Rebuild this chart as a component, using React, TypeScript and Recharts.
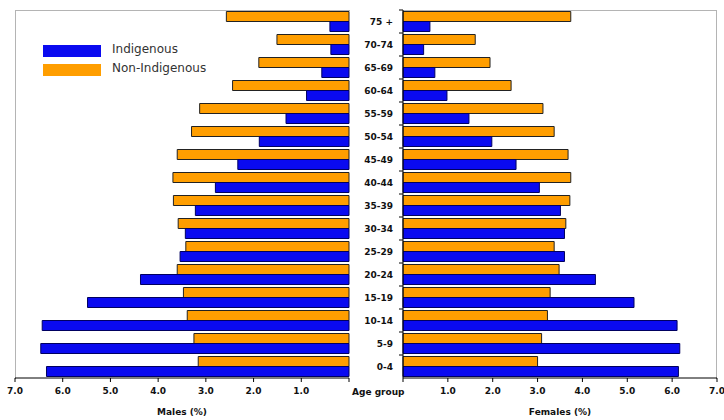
import { Bar, BarChart, Label, Legend, XAxis, YAxis } from "recharts";

const ageGroups = ["75 +", "70-74", "65-69", "60-64", "55-59", "50-54", "45-49", "40-44", "35-39", "30-34", "25-29", "20-24", "15-19", "10-14", "5-9", "0-4"];

const maleIndigenous = [0.4, 0.38, 0.57, 0.89, 1.32, 1.88, 2.33, 2.8, 3.22, 3.43, 3.54, 4.37, 5.48, 6.43, 6.46, 6.34];
const maleNonIndigenous = [2.57, 1.51, 1.89, 2.44, 3.13, 3.3, 3.6, 3.69, 3.68, 3.58, 3.42, 3.6, 3.47, 3.39, 3.25, 3.16];
const femaleIndigenous = [0.6, 0.46, 0.71, 0.98, 1.47, 1.98, 2.52, 3.04, 3.51, 3.6, 3.6, 4.29, 5.15, 6.11, 6.17, 6.14];
const femaleNonIndigenous = [3.74, 1.61, 1.94, 2.41, 3.12, 3.37, 3.68, 3.74, 3.72, 3.63, 3.37, 3.48, 3.28, 3.22, 3.09, 3.0];

const xTicks = [0, 1, 2, 3, 4, 5, 6, 7];

const BLUE = "#0a0af0";
const ORANGE = "#ff9e00";
const FRAME = "#b4b4b4";
const FONT = "'DejaVu Sans', Verdana, sans-serif";

const PLOT_TOP = 10;
const PLOT_H = 368;
const BAND = PLOT_H / ageGroups.length;

const maleData = ageGroups.map((age, i) => ({
  age,
  indigenous: maleIndigenous[i],
  nonIndigenous: maleNonIndigenous[i],
}));

const femaleData = ageGroups.map((age, i) => ({
  age,
  indigenous: femaleIndigenous[i],
  nonIndigenous: femaleNonIndigenous[i],
}));

const tickStyle = { fontFamily: FONT, fontWeight: "bold", fontSize: 9, fill: "#111" };

const fmt = (v: number) => (v === 0 ? "" : v.toFixed(1));

// tick marks sit on the band boundaries, labels in the middle gap
function LeftBandTick(props: any) {
  const { x, y } = props;
  const top = y - BAND / 2;
  return <line x1={x} x2={x + 3} y1={top} y2={top} stroke="#000" />;
}

function RightBandTick(props: any) {
  const { x, y, payload } = props;
  const top = y - BAND / 2;
  return (
    <g>
      <line x1={x - 4} x2={x} y1={top} y2={top} stroke="#000" />
      <text x={x - 10} y={y} dy="0.35em" textAnchor="end" style={tickStyle}>
        {payload.value}
      </text>
    </g>
  );
}

function LegendBox(props: any) {
  const items = [...(props.payload || [])].sort((a: any, b: any) => (a.value === "Indigenous" ? -1 : b.value === "Indigenous" ? 1 : 0));
  return (
    <div style={{ fontFamily: FONT, fontSize: 12, color: "#333" }}>
      {items.map((item: any) => (
        <div key={item.value} style={{ display: "flex", alignItems: "center", height: 19 }}>
          <span style={{ display: "inline-block", width: 58, height: 12, background: item.color, marginRight: 11 }} />
          <span style={{ marginTop: -4 }}>{item.value}</span>
        </div>
      ))}
    </div>
  );
}

export default function App() {
  return (
    <div style={{ position: "absolute", left: 0, top: 0, width: 724, height: 420, background: "#fff" }}>
      {/* light frame around the outer sides of both panels */}
      <div style={{ position: "absolute", left: 15, top: 10, width: 334, height: 368, borderTop: `1px solid ${FRAME}`, borderLeft: `1px solid ${FRAME}` }} />
      <div style={{ position: "absolute", left: 403, top: 10, width: 313, height: 368, borderTop: `1px solid ${FRAME}`, borderRight: `1px solid ${FRAME}` }} />

      <div style={{ position: "absolute", left: 0, top: 0 }}>
        <BarChart
          width={352}
          height={420}
          data={maleData}
          layout="vertical"
          margin={{ top: PLOT_TOP, right: 3, bottom: 0, left: 15 }}
          barCategoryGap={1.5}
          barGap={0}
        >
          <XAxis
            type="number"
            domain={[0, 7]}
            ticks={xTicks}
            reversed
            tickFormatter={fmt}
            tick={tickStyle}
            tickSize={4}
            tickMargin={6}
            axisLine={{ stroke: "#000" }}
            tickLine={{ stroke: "#000" }}
            height={42}
          >
            <Label value="Males (%)" position="insideBottom" offset={5} style={tickStyle} />
          </XAxis>
          <YAxis
            type="category"
            dataKey="age"
            orientation="right"
            width={0}
            tickSize={0}
            tickMargin={0}
            tickLine={false}
            tick={<LeftBandTick />}
            axisLine={{ stroke: "#000" }}
          />
          <Legend
            layout="horizontal"
            align="center"
            verticalAlign="middle"
            content={<LegendBox />}
            wrapperStyle={{ left: 43, top: 41, width: 200 }}
          />
          <Bar dataKey="nonIndigenous" name="Non-Indigenous" fill={ORANGE} stroke="#222" isAnimationActive={false} />
          <Bar dataKey="indigenous" name="Indigenous" fill={BLUE} stroke="#000060" isAnimationActive={false} />
        </BarChart>
      </div>

      <div style={{ position: "absolute", left: 349, top: 0 }}>
        <BarChart
          width={375}
          height={420}
          data={femaleData}
          layout="vertical"
          margin={{ top: PLOT_TOP, right: 7, bottom: 0, left: 0 }}
          barCategoryGap={1.5}
          barGap={0}
        >
          <XAxis
            type="number"
            domain={[0, 7]}
            ticks={xTicks}
            tickFormatter={fmt}
            tick={tickStyle}
            tickSize={4}
            tickMargin={6}
            axisLine={{ stroke: "#000" }}
            tickLine={{ stroke: "#000" }}
            height={42}
          >
            <Label value="Females (%)" position="insideBottom" offset={5} style={tickStyle} />
          </XAxis>
          <YAxis
            type="category"
            dataKey="age"
            orientation="left"
            width={54}
            tickSize={0}
            tickMargin={0}
            tickLine={false}
            tick={<RightBandTick />}
            axisLine={{ stroke: "#000" }}
          />
          <Bar dataKey="nonIndigenous" name="Non-Indigenous" fill={ORANGE} stroke="#222" isAnimationActive={false} />
          <Bar dataKey="indigenous" name="Indigenous" fill={BLUE} stroke="#000060" isAnimationActive={false} />
        </BarChart>
      </div>

      <div
        style={{
          position: "absolute",
          left: 352,
          top: 388,
          fontFamily: FONT,
          fontWeight: "bold",
          fontSize: 9,
          color: "#111",
          lineHeight: 1,
        }}
      >
        Age group
      </div>
    </div>
  );
}
